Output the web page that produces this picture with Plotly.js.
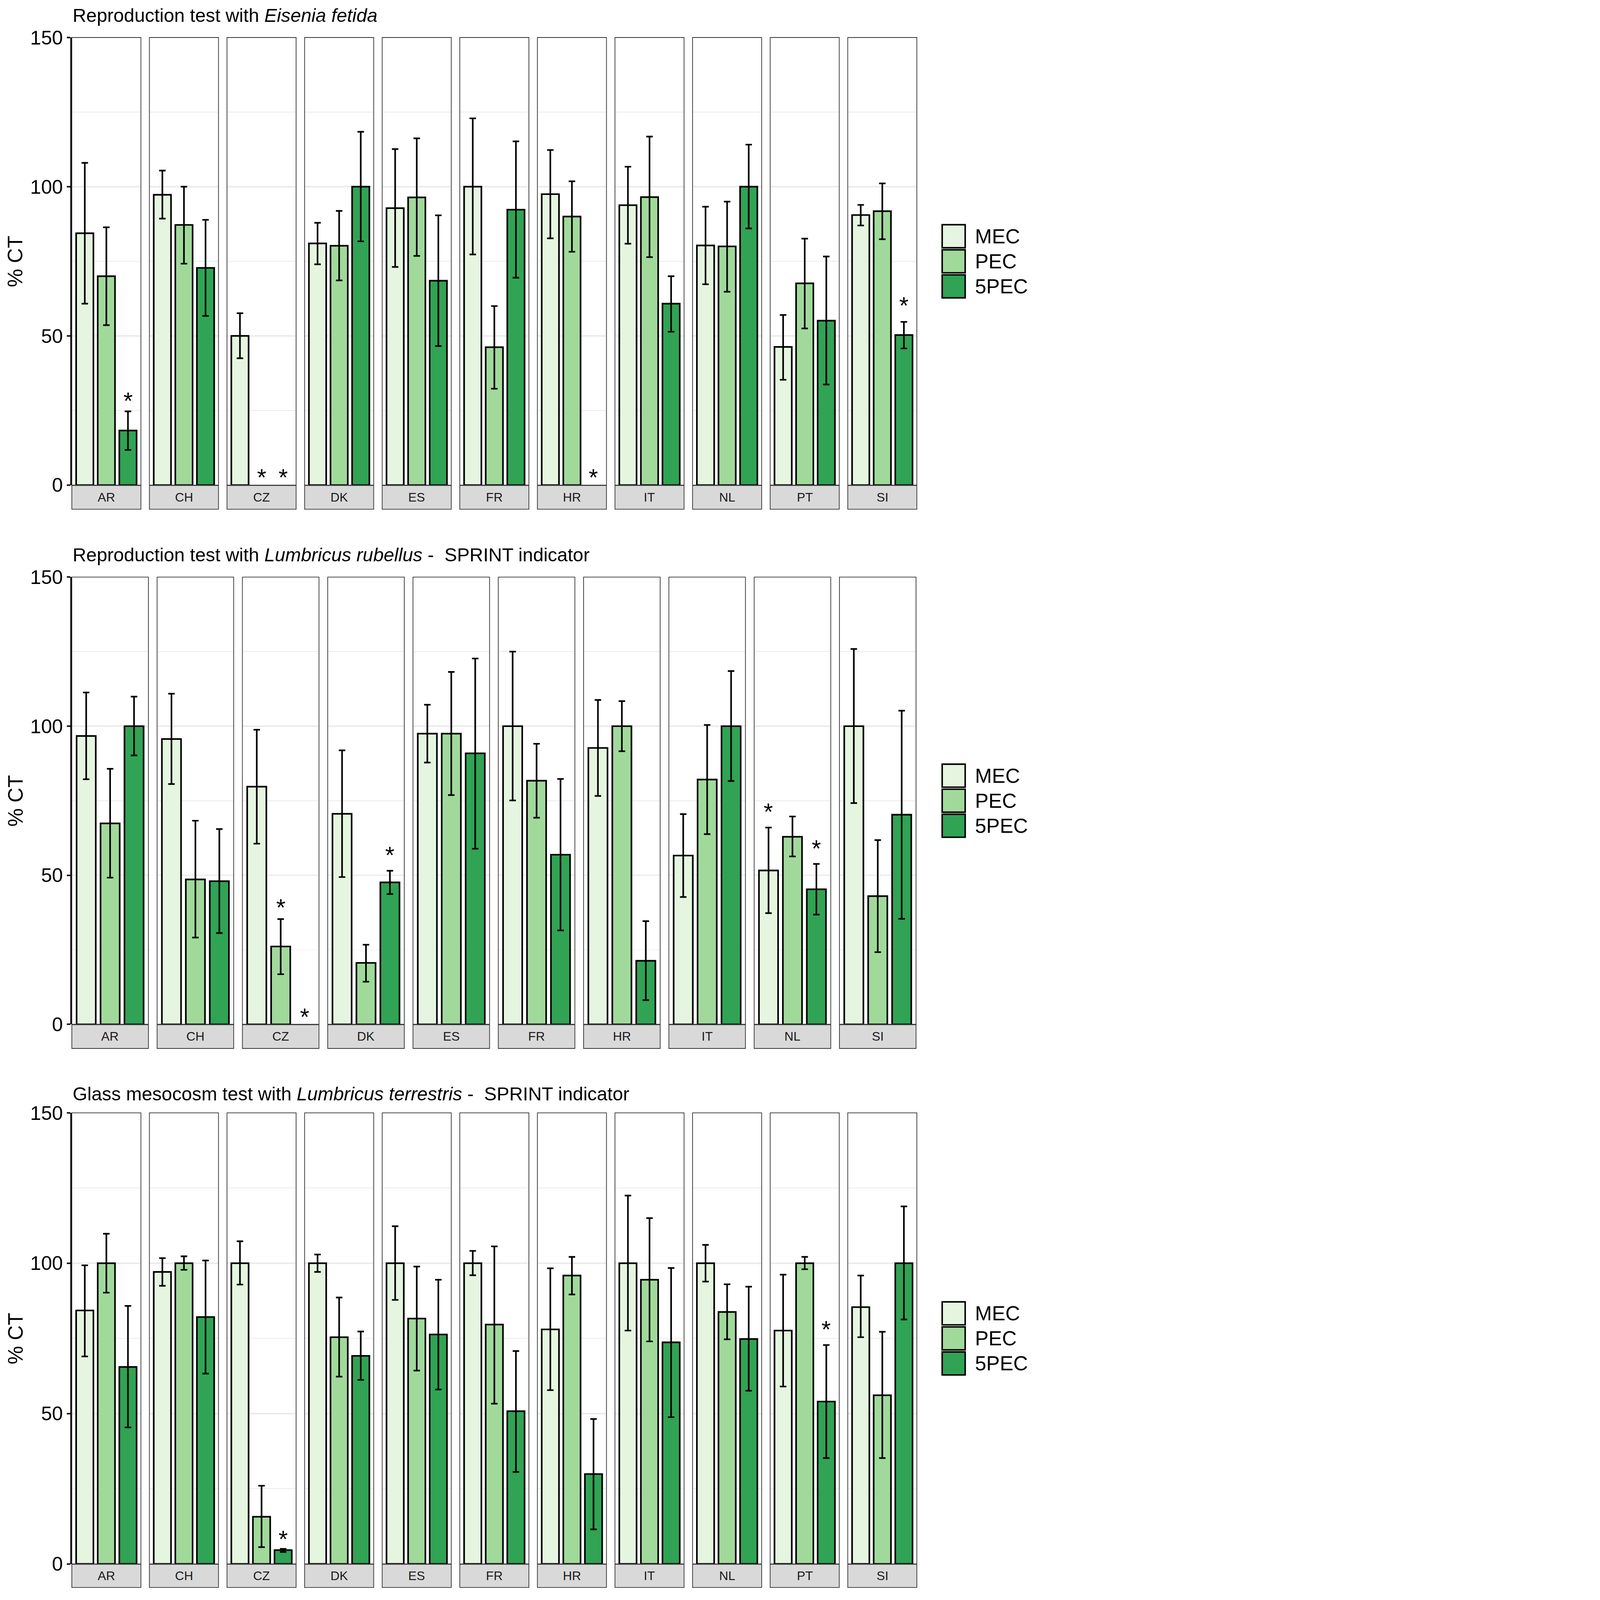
<!DOCTYPE html>
<html>
<head>
<meta charset="utf-8">
<script src="https://cdn.plot.ly/plotly-3.0.1.min.js"></script>
<style>html,body{margin:0;padding:0;background:#fff;overflow:hidden;}</style>
</head>
<body>
<div id="chart"></div>
<script>
// ---------------- DATA ----------------
const treatments = ['MEC', 'PEC', '5PEC'];
const treatmentColors = ['#e5f5e0', '#a1d99b', '#31a354'];

const countries1 = ['AR','CH','CZ','DK','ES','FR','HR','IT','NL','PT','SI'];
const countries2 = ['AR','CH','CZ','DK','ES','FR','HR','IT','NL','SI'];
const countries3 = ['AR','CH','CZ','DK','ES','FR','HR','IT','NL','PT','SI'];

const titles = [
  'Reproduction test with <i>Eisenia fetida</i>',
  'Reproduction test with <i>Lumbricus rubellus</i> -&nbsp; SPRINT indicator',
  'Glass mesocosm test with <i>Lumbricus terrestris</i> -&nbsp; SPRINT indicator'
];
const yTitle = '% CT';
const yTicks = [0, 50, 100, 150];
const yMinorTicks = [25, 75, 125];

// Panel 1: Eisenia fetida
const p1MEC    = [84.4, 97.3, 50.0, 81.0, 92.8, 100.0, 97.5, 93.8, 80.3, 46.3, 90.5];
const p1MEChi  = [108.0,105.4,57.6, 87.9, 112.6,122.9, 112.3,106.7,93.3, 57.0, 93.9];
const p1MEClo  = [60.8, 89.3, 42.5, 74.0, 73.1, 77.3, 82.7, 80.9, 67.3, 35.3, 87.0];
const p1PEC    = [70.0, 87.2, 0,    80.2, 96.4, 46.2, 90.0, 96.5, 80.0, 67.6, 91.8];
const p1PEChi  = [86.4, 100.0,null, 91.9, 116.2,60.0, 101.8,116.8,95.0, 82.6, 101.1];
const p1PEClo  = [53.6, 74.2, null, 68.6, 76.8, 32.3, 78.2, 76.4, 64.8, 52.5, 82.4];
const p15PEC   = [18.3, 72.8, 0,    100.0,68.5, 92.3, 0,    60.8, 100.0,55.1, 50.3];
const p15PEChi = [24.7, 88.9, null, 118.4,90.4, 115.2,null, 70.0, 114.1,76.6, 54.7];
const p15PEClo = [11.8, 56.7, null, 81.7, 46.6, 69.5, null, 51.4, 86.0, 33.7, 45.8];
const p1StarCountry = ['AR','CZ','CZ','HR','SI'];
const p1StarTreat   = ['5PEC','PEC','5PEC','5PEC','5PEC'];
const p1StarY       = [30.0, 4.4, 4.4, 4.4, 61.9];

// Panel 2: Lumbricus rubellus
const p2MEC    = [96.7, 95.7, 79.7, 70.6, 97.5, 100.0,92.7, 56.6, 51.6, 100.0];
const p2MEChi  = [111.3,110.9,98.8, 91.9, 107.2,125.0,108.8,70.5, 66.0, 125.9];
const p2MEClo  = [82.2, 80.6, 60.6, 49.4, 87.8, 75.1, 76.6, 42.7, 37.3, 74.2];
const p2PEC    = [67.4, 48.6, 26.1, 20.6, 97.5, 81.7, 100.0,82.1, 62.9, 43.0];
const p2PEChi  = [85.7, 68.3, 35.3, 26.7, 118.2,94.1, 108.4,100.4,69.7, 61.8];
const p2PEClo  = [49.2, 29.1, 16.8, 14.3, 76.9, 69.3, 91.6, 63.8, 56.3, 24.2];
const p25PEC   = [100.0,48.0, 0,    47.6, 90.9, 56.9, 21.3, 100.0,45.3, 70.3];
const p25PEChi = [109.9,65.5, null, 51.5, 122.7,82.3, 34.6, 118.5,53.8, 105.2];
const p25PEClo = [90.2, 30.6, null, 43.7, 58.9, 31.5, 8.1,  81.6, 36.8, 35.4];
const p2StarCountry = ['CZ','CZ','DK','NL','NL'];
const p2StarTreat   = ['PEC','5PEC','5PEC','MEC','5PEC'];
const p2StarY       = [41.0, 4.3, 58.5, 73.1, 60.7];

// Panel 3: Lumbricus terrestris
const p3MEC    = [84.3, 97.1, 100.0,100.0,100.0,100.0,78.0, 100.0,100.0,77.6, 85.4];
const p3MEChi  = [99.3, 101.7,107.3,102.9,112.3,104.1,98.3, 122.5,106.1,96.2, 95.9];
const p3MEClo  = [69.0, 92.5, 92.9, 97.1, 87.8, 96.0, 57.8, 77.6, 93.9, 59.0, 75.4];
const p3PEC    = [100.0,100.0,15.7, 75.4, 81.6, 79.6, 95.9, 94.5, 83.8, 100.0,56.1];
const p3PEChi  = [109.8,102.3,26.0, 88.6, 98.9, 105.6,102.1,115.0,93.0, 102.1,77.2];
const p3PEClo  = [90.2, 97.8, 5.6,  62.3, 64.3, 53.3, 89.6, 74.0, 74.7, 98.0, 35.2];
const p35PEC   = [65.5, 82.1, 4.6,  69.2, 76.3, 50.8, 29.9, 73.7, 74.8, 54.0, 100.0];
const p35PEChi = [85.8, 100.9,5.0,  77.3, 94.5, 70.8, 48.2, 98.4, 92.2, 72.8, 118.9];
const p35PEClo = [45.4, 63.3, 4.0,  61.2, 58.0, 30.6, 11.5, 48.8, 57.6, 35.2, 81.3];
const p3StarCountry = ['CZ','PT'];
const p3StarTreat   = ['5PEC','5PEC'];
const p3StarY       = [10.0, 79.8];

// ---------------- LAYOUT GEOMETRY (reference pixels) ----------------
const W = 5148, H = 7896;
const vw = window.innerWidth || W, vh = window.innerHeight || H;
const S = Math.min(vw / W, vh / H);          // scale so the whole figure fits the window
const z = v => v * S;
const FONT = 'Arial, "Liberation Sans", sans-serif';
const geom = [
  {top: 185,  bottom: 2394, strip: 2513, titleY: 76,   left: 354.5, facetW: 341, gap: 42},
  {top: 2848, bottom: 5055, strip: 5174, titleY: 2738, left: 354.5, facetW: 378, gap: 43},
  {top: 5492, bottom: 7718, strip: 7834, titleY: 5398, left: 354.5, facetW: 341, gap: 42}
];
const panels = [
  {countries: countries1, mean: [p1MEC, p1PEC, p15PEC], hi: [p1MEChi, p1PEChi, p15PEChi], lo: [p1MEClo, p1PEClo, p15PEClo],
   star: {c: p1StarCountry, t: p1StarTreat, y: p1StarY}},
  {countries: countries2, mean: [p2MEC, p2PEC, p25PEC], hi: [p2MEChi, p2PEChi, p25PEChi], lo: [p2MEClo, p2PEClo, p25PEClo],
   star: {c: p2StarCountry, t: p2StarTreat, y: p2StarY}},
  {countries: countries3, mean: [p3MEC, p3PEC, p35PEC], hi: [p3MEChi, p3PEChi, p35PEChi], lo: [p3MEClo, p3PEClo, p35PEClo],
   star: {c: p3StarCountry, t: p3StarTreat, y: p3StarY}}
];

const fx = v => v / W;
const fy = v => 1 - v / H;

const chartDiv = document.getElementById('chart');
chartDiv.style.width = z(W) + 'px';
chartDiv.style.height = z(H) + 'px';

const traces = [];
const layout = {
  width: z(W), height: z(H),
  margin: {l: 0, r: 0, t: 0, b: 0, pad: 0},
  paper_bgcolor: '#ffffff',
  plot_bgcolor: 'rgba(0,0,0,0)',
  barmode: 'overlay',
  showlegend: false,
  font: {family: FONT, color: '#000'},
  shapes: [],
  annotations: []
};

let axisIdx = 0;
panels.forEach((panel, p) => {
  const g = geom[p];
  const yName = p === 0 ? 'y' : 'y' + (p + 1);
  const yKey = p === 0 ? 'yaxis' : 'yaxis' + (p + 1);
  let firstX = null;

  panel.countries.forEach((country, c) => {
    axisIdx += 1;
    const xName = axisIdx === 1 ? 'x' : 'x' + axisIdx;
    const xKey = axisIdx === 1 ? 'xaxis' : 'xaxis' + axisIdx;
    if (!firstX) firstX = xName;
    const l = g.left + c * (g.facetW + g.gap);
    const r = l + g.facetW;
    layout[xKey] = {
      domain: [fx(l), fx(r)], anchor: yName, type: 'category',
      categoryorder: 'array', categoryarray: treatments, range: [-0.6, 2.6],
      showticklabels: false, ticks: '', showgrid: false, zeroline: false, showline: false, fixedrange: true
    };

    treatments.forEach((t, ti) => {
      const m = panel.mean[ti][c];
      const hi = panel.hi[ti][c];
      const lo = panel.lo[ti][c];
      const absent = (hi === null || hi === undefined);
      traces.push({
        type: 'bar', x: [t], y: [absent && m === 0 ? null : m],
        xaxis: xName, yaxis: yName, width: [0.8],
        marker: {color: treatmentColors[ti], line: {color: '#000', width: z(8)}},
        error_y: {
          type: 'data', symmetric: false,
          array: [absent ? NaN : hi - m], arrayminus: [absent ? NaN : m - lo],
          color: '#000', thickness: z(8), width: z(16)
        },
        showlegend: false, hoverinfo: 'skip'
      });
    });

    // panel border
    layout.shapes.push({type: 'rect', xref: 'paper', yref: 'paper', layer: 'above',
      x0: fx(l), x1: fx(r), y0: fy(g.bottom), y1: fy(g.top),
      line: {color: '#333333', width: z(3.5)}, fillcolor: 'rgba(0,0,0,0)'});
    // strip
    layout.shapes.push({type: 'rect', xref: 'paper', yref: 'paper', layer: 'above',
      x0: fx(l), x1: fx(r), y0: fy(g.strip), y1: fy(g.bottom + 2),
      line: {color: '#333333', width: z(3.5)}, fillcolor: '#d9d9d9'});
    layout.annotations.push({xref: 'paper', yref: 'paper', x: fx((l + r) / 2), y: fy((g.bottom + g.strip) / 2),
      xanchor: 'center', yanchor: 'middle', showarrow: false, text: country,
      font: {family: FONT, size: z(62), color: '#1a1a1a'}});

    // significance asterisks
    panel.star.c.forEach((sc, si) => {
      if (sc !== country) return;
      layout.annotations.push({xref: xName, yref: yName,
        x: treatments.indexOf(panel.star.t[si]), y: panel.star.y[si],
        xanchor: 'center', yanchor: 'middle', yshift: -z(26), showarrow: false, text: '*',
        font: {family: FONT, size: z(118), color: '#000'}});
    });
  });

  layout[yKey] = {
    domain: [fy(g.bottom), fy(g.top)], anchor: firstX, range: [0, 150],
    tickvals: yTicks, ticktext: yTicks.map(String),
    showgrid: true, gridcolor: '#ebebeb', gridwidth: z(7),
    minor: {tickvals: yMinorTicks, showgrid: true, gridcolor: '#ebebeb', gridwidth: z(3.5)},
    zeroline: false, showline: true, linecolor: '#000', linewidth: z(7.5),
    ticks: 'outside', ticklen: z(17), tickwidth: z(7.5), tickcolor: '#1a1a1a',
    ticklabelstandoff: 0,
    tickfont: {family: FONT, size: z(97), color: '#000'}, fixedrange: true
  };

  // title
  layout.annotations.push({xref: 'paper', yref: 'paper', x: fx(g.left), y: fy(g.titleY),
    xanchor: 'left', yanchor: 'middle', showarrow: false, text: titles[p],
    font: {family: FONT, size: z(93), color: '#000'}});
  // y axis title
  layout.annotations.push({xref: 'paper', yref: 'paper', x: fx(76), y: fy((g.top + g.bottom) / 2),
    xanchor: 'center', yanchor: 'middle', showarrow: false, text: yTitle, textangle: -90,
    font: {family: FONT, size: z(102), color: '#000'}});

  // custom legend keys
  const mid = (g.top + g.bottom) / 2;
  const keyW = 113.5, keyH = 113.5, pitch = 123.7, keyL = 4650.5;
  treatments.forEach((t, ti) => {
    const cy = mid + (ti - 1) * pitch;
    layout.shapes.push({type: 'rect', xref: 'paper', yref: 'paper', layer: 'above',
      x0: fx(keyL), x1: fx(keyL + keyW), y0: fy(cy + keyH / 2), y1: fy(cy - keyH / 2),
      line: {color: '#000', width: z(7.5)}, fillcolor: treatmentColors[ti]});
    layout.annotations.push({xref: 'paper', yref: 'paper', x: fx(4808), y: fy(cy),
      xanchor: 'left', yanchor: 'middle', showarrow: false, text: t,
      font: {family: FONT, size: z(100), color: '#000'}});
  });
});

Plotly.newPlot(chartDiv, traces, layout, {staticPlot: true, displayModeBar: false});
</script>
</body>
</html>
